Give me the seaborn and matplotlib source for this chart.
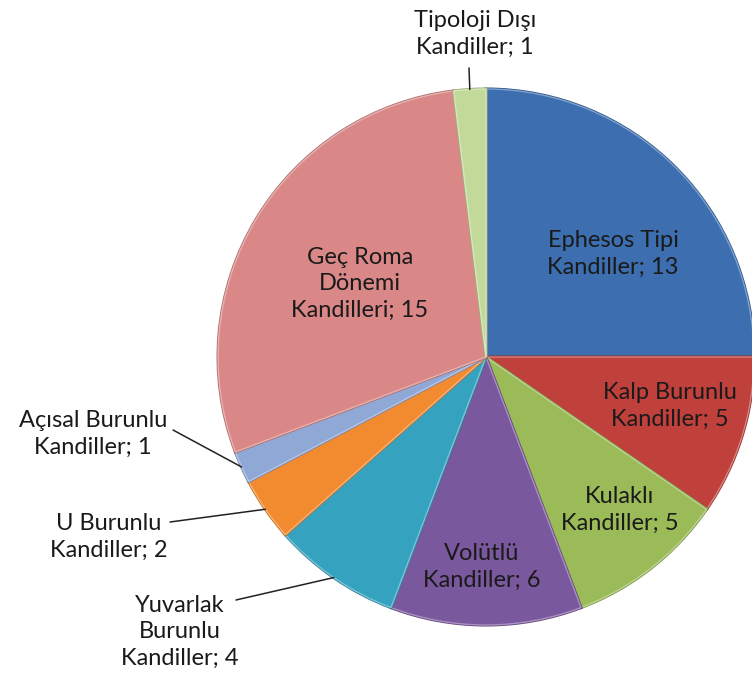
import numpy as np
import matplotlib
matplotlib.use("Agg")
import matplotlib.pyplot as plt
import matplotlib.colors as mcolors
import matplotlib.patheffects as pe
import seaborn as sns

sns.set_theme(style="white")
plt.rcParams["font.family"] = ["Lato", "DejaVu Sans"]

# Lamp types and counts, clockwise from 12 o'clock
categories = [
    "Ephesos Tipi\nKandiller",
    "Kalp Burunlu\nKandiller",
    "Kulaklı\nKandiller",
    "Volütlü\nKandiller",
    "Yuvarlak\nBurunlu\nKandiller",
    "U Burunlu\nKandiller",
    "Açısal Burunlu\nKandiller",
    "Geç Roma\nDönemi\nKandilleri",
    "Tipoloji Dışı\nKandiller",
]
counts = [13, 5, 5, 6, 4, 2, 1, 15, 1]
colors = ["#3C6EB0", "#C0403C", "#9BBB59", "#7A589E", "#35A2C0",
          "#F28A30", "#90A8D6", "#D98887", "#C3D99A"]

W, H = 752, 677
fig = plt.figure(figsize=(W / 100, H / 100), dpi=100)
ax = fig.add_axes([0, 0, 1, 1])

cx, cy, R = 486, H - 357, 268
wedges, _ = ax.pie(counts, colors=colors, startangle=90, counterclock=False,
                   center=(cx, cy), radius=R, frame=True,
                   wedgeprops=dict(linewidth=0))
ax.set_xlim(0, W)
ax.set_ylim(0, H)
ax.set_aspect("equal")
ax.axis("off")


def shade(c, f):
    r, g, b = mcolors.to_rgb(c)
    return (r * f, g * f, b * f)


def tint(c, f):
    r, g, b = mcolors.to_rgb(c)
    return (r + (1 - r) * f, g + (1 - g) * f, b + (1 - b) * f)


# soft bevel: darker rim with a light inner highlight
for w, c in zip(wedges, colors):
    w.set_edgecolor(tint(c, 0.35))
    w.set_linewidth(1.0)
    w.set_path_effects([pe.Stroke(linewidth=2.2, foreground=shade(c, 0.8)),
                        pe.Normal()])

# Label placement: (x, y in pixels from top, leader-line start)
placement = [
    (613, 254, None),
    (670, 406, None),
    (620, 510, None),
    (482, 567, None),
    (180, 632, (236, 600)),
    (109, 537, (170, 522)),
    (93, 434, (173, 430)),
    (360, 284, None),
    (475, 34, (469, 68)),
]

total = sum(counts)
cum = 0
for name, val, (tx, ty, lead) in zip(categories, counts, placement):
    mid = (cum + val / 2) / total * 2 * np.pi
    cum += val
    ax.text(tx, H - ty, f"{name}; {val}", ha="center", va="center",
            fontsize=17, color="#1a1a1a", linespacing=1.33)
    if lead is not None:
        rx = cx + R * np.sin(mid)
        ry = cy + R * np.cos(mid)
        ax.plot([lead[0], rx], [H - lead[1], ry], color="#222222", lw=1.1)

fig.savefig("out.png", dpi=100)
